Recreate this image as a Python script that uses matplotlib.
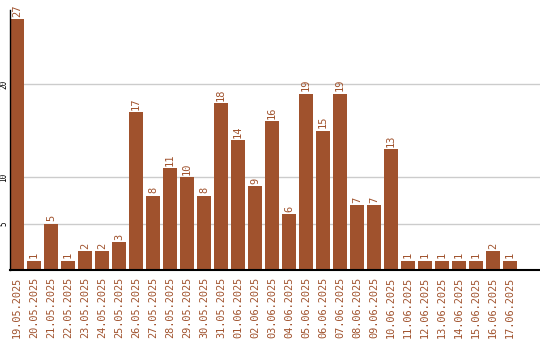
import matplotlib
matplotlib.use("Agg")
import matplotlib.pyplot as plt
from datetime import date, timedelta

start = date(2025, 5, 19)
dates = [(start + timedelta(days=i)).strftime("%d.%m.%Y") for i in range(30)]
counts = [27, 1, 5, 1, 2, 2, 3, 17, 8, 11, 10, 8, 18, 14, 9, 16, 6, 19, 15, 19,
          7, 7, 13, 1, 1, 1, 1, 1, 2, 1]
y_ticks = [5, 10, 20]

color = "#A0522D"
mono = "DejaVu Sans Mono"

fig = plt.figure(figsize=(5.4, 3.4), dpi=100)
ax = fig.add_axes([10 / 540, 70 / 340, 530 / 540, 260 / 340])

x = list(range(len(counts)))
ax.bar(x, counts, width=0.82, color=color, zorder=2)
for xi, v in zip(x, counts):
    ax.text(xi, v + 0.25, str(v), rotation=90, ha="center", va="bottom",
            color=color, fontsize=7.5, family=mono)

ax.set_xlim(-0.41, 30.76)
ax.set_ylim(0, 28)
ax.set_yticks(y_ticks)
ax.set_yticklabels([str(t) for t in y_ticks], rotation=90, va="center",
                   fontsize=5.5, family=mono)
ax.yaxis.grid(True, color="#cccccc", linewidth=1, zorder=0)
ax.tick_params(axis="y", length=0, pad=1)
ax.set_xticks(x)
ax.set_xticklabels(dates, rotation=90, fontsize=7.4, family=mono, color=color)
ax.tick_params(axis="x", length=0, pad=5)

for s in ["top", "right"]:
    ax.spines[s].set_visible(False)
ax.spines["bottom"].set_linewidth(1.5)
ax.spines["left"].set_linewidth(1)

fig.savefig("out.png", dpi=100)
